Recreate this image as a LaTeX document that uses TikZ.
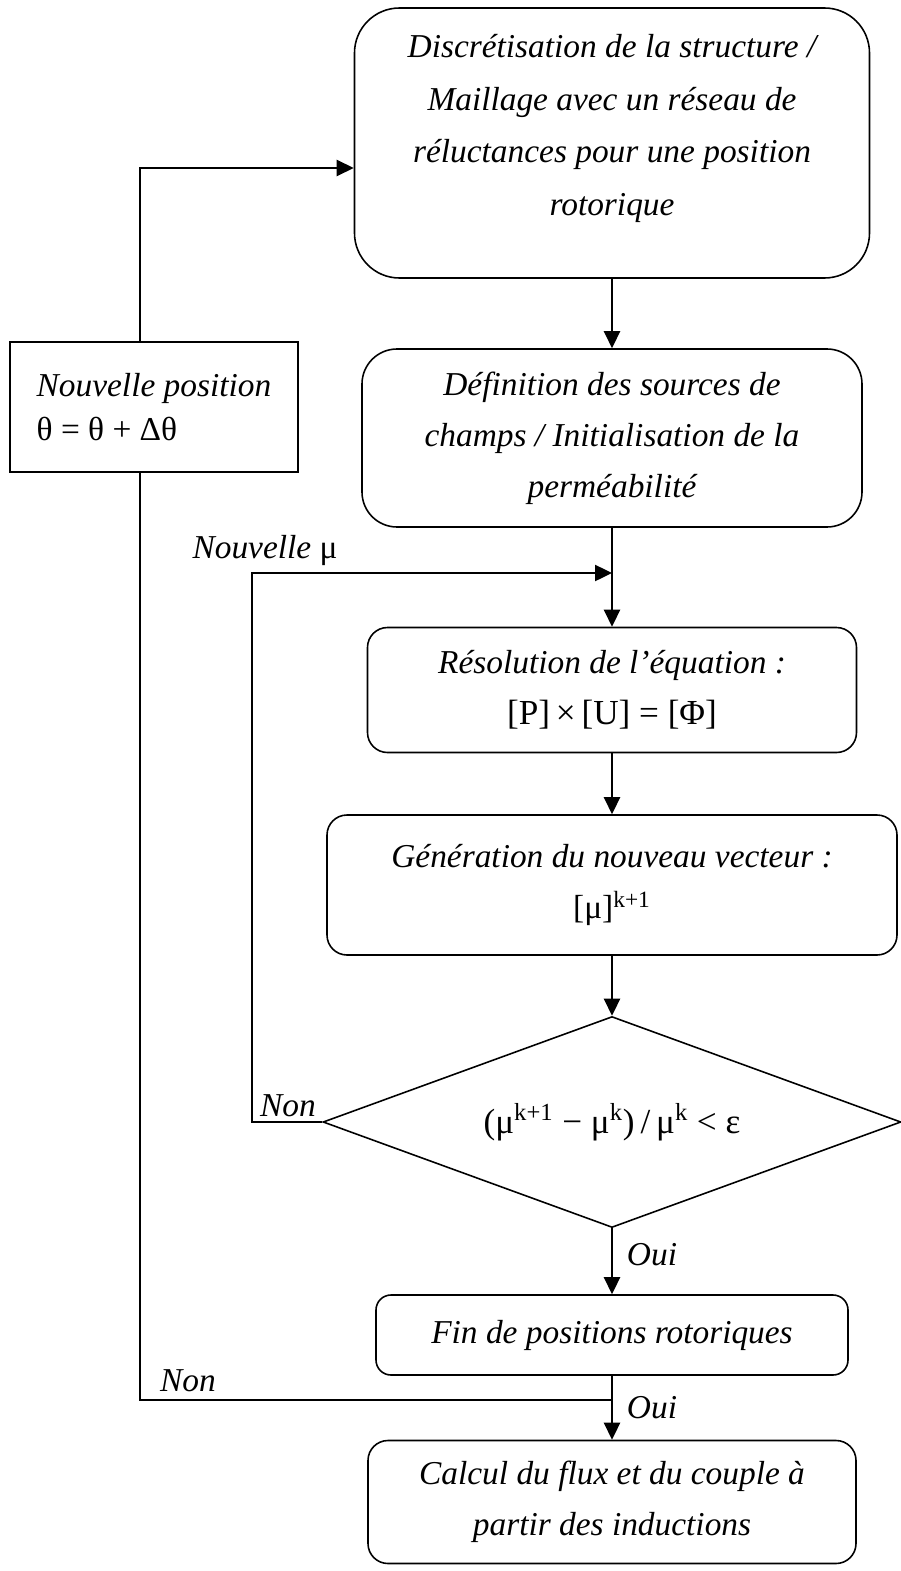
\documentclass[tikz,border=0pt]{standalone}
\usepackage{fontspec}
\setmainfont{Liberation Serif}
\usetikzlibrary{arrows.meta,positioning,shapes.geometric,calc}
\tikzset{
  bloc/.style={draw,line width=0.9pt,align=center,inner sep=4pt,
    font=\fontsize{19}{29}\selectfont\itshape},
  etape/.style={bloc,rounded corners=0.4cm},
  losange/.style={bloc,diamond,shape aspect=2.8,inner sep=0pt,font=\fontsize{20}{29}\selectfont},
  fl/.style={-{Triangle[length=3.4mm,width=3.2mm]},line width=1.4pt},
  lien/.style={line width=1.4pt},
  lbl/.style={font=\fontsize{19}{20}\selectfont\itshape,inner sep=0pt},
}

\begin{document}
\begin{tikzpicture}[x=0.2mm,y=-0.2mm]
  \useasboundingbox (0,0) rectangle (901,1571);
  % blocs
  \node[etape,rounded corners=0.9cm,minimum width=10.3cm,minimum height=5.4cm,
    font=\fontsize{19}{30}\selectfont\itshape] (discr) at (612,143)
    {Discrétisation de la structure /\\Maillage avec un réseau de\\réluctances pour une position\\rotorique\\[-9.5pt]};
  \node[etape,rounded corners=0.7cm,minimum width=10cm,minimum height=3.56cm] (defin) at (612,438)
    {Définition des sources de\\champs / Initialisation de la\\perméabilité};
  \node[etape,minimum width=9.78cm,minimum height=2.5cm] (resol) at (612,690)
    {Résolution de l’équation :\\{\upshape\fontsize{20}{29}\selectfont [P]\,×\,[U] = [Φ]}};
  \node[etape,minimum width=11.4cm,minimum height=2.8cm] (gener) at (612,885)
    {Génération du nouveau vecteur :\\{\upshape [μ]\textsuperscript{k+1}}};
  \node[losange,minimum width=11.56cm,minimum height=4.22cm] (test) at (612,1122)
    {(μ\textsuperscript{k+1} − μ\textsuperscript{k})\,/\,μ\textsuperscript{k} < ε};
  \node[etape,rounded corners=0.3cm,minimum width=9.44cm,minimum height=1.6cm] (fin) at (612,1335)
    {Fin de positions rotoriques};
  \node[etape,minimum width=9.76cm,minimum height=2.46cm] (calc) at (612,1502)
    {Calcul du flux et du couple à\\partir des inductions};
  \node[bloc,align=left,minimum width=5.76cm,minimum height=2.6cm,
    font=\fontsize{19}{25}\selectfont\itshape] (posit) at (154,407)
    {Nouvelle position\\{\upshape θ = θ + Δθ}};
  % points de jonction
  \coordinate (mu) at (612,573);
  \coordinate (jonc) at (612,1400);
  \coordinate (pbas) at (140,472);
  \coordinate (phaut) at (140,342);
  % liaisons
  \draw[fl] (discr) -- (defin);
  \draw[fl] (defin) -- (resol);
  \draw[fl] (resol) -- (gener);
  \draw[fl] (gener) -- (test);
  \draw[fl] (test) -- (fin);
  \draw[fl] (fin) -- (calc);
  \draw[fl] (test.west) -- (252,1122) |- (mu);
  \draw[lien] (jonc) -| (pbas);
  \draw[fl] (phaut) |- ($(discr.west)+(0,25)$);
  % etiquettes
  \node[lbl] (nmu) at (265,550) {Nouvelle {\upshape μ}};
  \node[lbl] (non1) at (288,1106) {Non};
  \node[lbl] (oui1) at (652,1255) {Oui};
  \node[lbl] (non2) at (188,1381) {Non};
  \node[lbl] (oui2) at (652,1408) {Oui};
\end{tikzpicture}
\end{document}
